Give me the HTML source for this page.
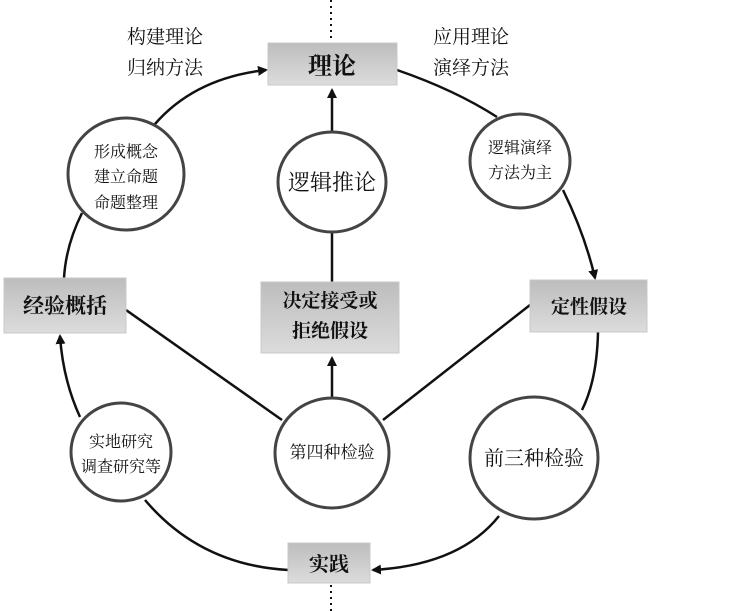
<!DOCTYPE html>
<html><head><meta charset="utf-8"><style>
body{margin:0;background:#fff}
svg{display:block}
text{font-family:"Liberation Serif","Noto Serif CJK SC","Noto Sans CJK SC",serif;fill:#111;text-anchor:middle}
</style></head><body>
<svg width="750" height="611" viewBox="0 0 750 611" xmlns="http://www.w3.org/2000/svg">
<defs>
<linearGradient id="g" x1="0" y1="0" x2="0" y2="1"><stop offset="0" stop-color="#bdbdbd"/><stop offset="1" stop-color="#dcdcdc"/></linearGradient>
<marker id="a" markerWidth="10" markerHeight="10" refX="8" refY="5" orient="auto" markerUnits="userSpaceOnUse"><path d="M0,0 L10,5 L0,10 z" fill="#111"/></marker>
</defs>
<g stroke="#111" stroke-dasharray="2,4" stroke-width="2"><line x1="331" y1="0" x2="331" y2="42"/><line x1="331" y1="585" x2="331" y2="611"/></g>
<g fill="none" stroke="#111" stroke-width="2.5">
<path d="M155,124 Q195,78 266,70" marker-end="url(#a)"/>
<path d="M397,70 Q455,90 497,117"/>
<path d="M563,190 Q585,235 595,278" marker-end="url(#a)"/>
<line x1="332" y1="132" x2="332" y2="90" marker-end="url(#a)"/>
<line x1="332" y1="233" x2="332" y2="282"/>
<path d="M82,213 Q66,245 64,278"/>
<line x1="126" y1="310" x2="282" y2="420"/>
<line x1="530" y1="305" x2="383" y2="420"/>
<line x1="332" y1="398" x2="332" y2="358" marker-end="url(#a)"/>
<path d="M80,417 Q63,380 60,336" marker-end="url(#a)"/>
<path d="M598,332 Q597,380 582,410"/>
<path d="M145,500 Q200,565 288,570"/>
<path d="M499,516 Q460,565 373,570" marker-end="url(#a)"/>
</g>
<g fill="url(#g)" stroke="#c8c8c8">
<rect x="268" y="43" width="129" height="42"/>
<rect x="4" y="278" width="122" height="55"/>
<rect x="261" y="282" width="138" height="71"/>
<rect x="530" y="280" width="117" height="52"/>
<rect x="288" y="543" width="82" height="40"/>
</g>
<g fill="#fff" stroke="#444" stroke-width="3">
<ellipse cx="126" cy="174" rx="58" ry="56"/>
<ellipse cx="332" cy="182" rx="54" ry="50"/>
<ellipse cx="520" cy="161" rx="50" ry="47"/>
<ellipse cx="121" cy="452" rx="50" ry="49"/>
<ellipse cx="332" cy="453" rx="57" ry="55"/>
<ellipse cx="534" cy="458" rx="64" ry="61"/>
</g>
<g font-size="19">
<text x="165" y="43">构建理论</text><text x="165" y="74">归纳方法</text>
<text x="471" y="43">应用理论</text><text x="471" y="74">演绎方法</text>
</g>
<text x="332" y="74" font-size="24" font-weight="bold">理论</text>
<text x="65" y="313" font-size="21" font-weight="bold">经验概括</text>
<text x="330" y="307" font-size="19" font-weight="bold">决定接受或</text>
<text x="330" y="337" font-size="19" font-weight="bold">拒绝假设</text>
<text x="589" y="313" font-size="19" font-weight="bold">定性假设</text>
<text x="329" y="571" font-size="20" font-weight="bold">实践</text>
<g font-size="16"><text x="126" y="157">形成概念</text><text x="126" y="182">建立命题</text><text x="126" y="208">命题整理</text></g>
<text x="332" y="190" font-size="22">逻辑推论</text>
<g font-size="16"><text x="520" y="153">逻辑演绎</text><text x="520" y="178">方法为主</text></g>
<g font-size="16"><text x="121" y="447">实地研究</text><text x="121" y="472">调查研究等</text></g>
<text x="332" y="458" font-size="17">第四种检验</text>
<text x="534" y="465" font-size="20">前三种检验</text>
</svg>
</body></html>
